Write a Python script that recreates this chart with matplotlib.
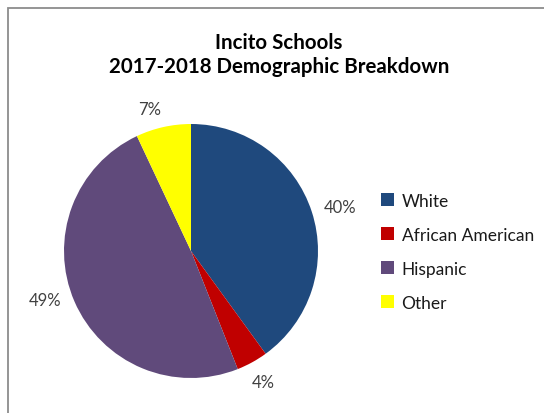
import numpy as np
import matplotlib.pyplot as plt
from matplotlib.patches import Rectangle

# Données du graphique
categories = ["White", "African American", "Hispanic", "Other"]
shares = [40, 4, 49, 7]
colors = ["#1F497D", "#C00000", "#604A7B", "#FFFF00"]
title = "Incito Schools\n2017-2018 Demographic Breakdown"

# Placement des étiquettes (façon Excel "ajustement optimal")
label_dist = [1.227, 1.177, 1.213, 1.164]
label_nudge = [-1.6, 0.0, -4.8, 3.5]  # degrés

plt.rcParams['font.family'] = ['Lato', 'DejaVu Sans']

W, H = 544, 414
fig = plt.figure(figsize=(W / 100, H / 100), dpi=100)

# Cadre gris (coins droit/bas hors image)
fig.patches.append(Rectangle((8 / W, -0.1), 1.2, 1 - 9 / H + 0.1,
                             transform=fig.transFigure, fill=False,
                             edgecolor="#8C8C8C", linewidth=1.3))

# Axe du camembert : centre (191, 252), rayon 127 px
cx, cy, r = 191, 252, 127
ax = fig.add_axes([(cx - r) / W, (H - cy - r) / H, 2 * r / W, 2 * r / H])
wedges, _ = ax.pie(shares, colors=colors, startangle=90, counterclock=False)
ax.set_xlim(-1, 1)
ax.set_ylim(-1, 1)
ax.axis("off")

total = sum(shares)
for w, v, d, n in zip(wedges, shares, label_dist, label_nudge):
    ang = np.deg2rad((w.theta1 + w.theta2) / 2 + n)
    ax.text(d * np.cos(ang), d * np.sin(ang), f"{100 * v / total:.0f}%",
            ha="center", va="center", fontsize=12, color="#404040",
            clip_on=False)

fig.text(279 / W, 1 - 55 / H, title, ha="center", va="center",
         fontsize=14.8, fontweight="bold", color="black", linespacing=1.2)

leg = fig.legend(wedges, categories, loc="upper left",
                 bbox_to_anchor=(372 / W, 1 - 185 / H),
                 frameon=False, fontsize=12.5, borderpad=0,
                 handlelength=0.75, handleheight=0.75,
                 handletextpad=0.45, labelspacing=1.04)
for t in leg.get_texts():
    t.set_color("#1a1a1a")

fig.savefig("out.png", dpi=100)
